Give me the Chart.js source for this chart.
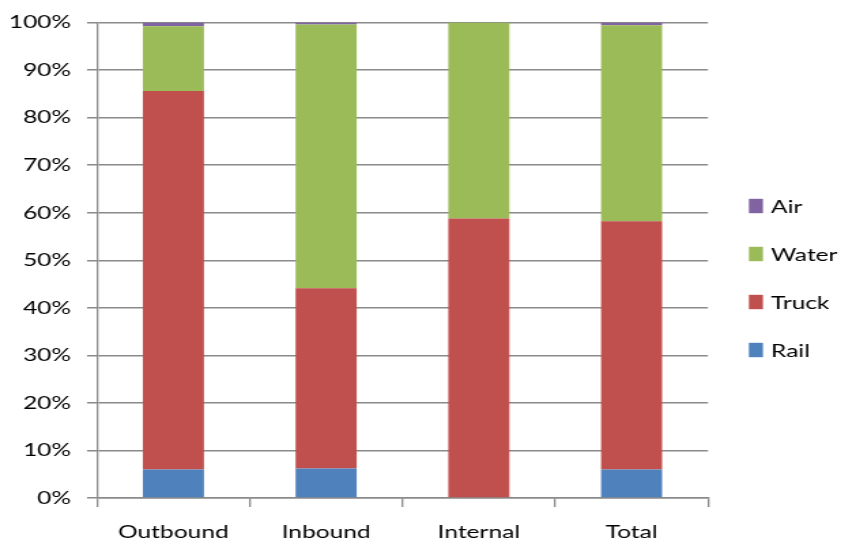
<!DOCTYPE html>
<html>
<head>
<meta charset="utf-8">
<script src="https://cdn.jsdelivr.net/npm/chart.js@4/dist/chart.umd.min.js"></script>
<style>
  html, body { margin: 0; padding: 0; background: #fff; overflow: hidden; }
</style>
</head>
<body>
<!-- drawn on a narrower canvas and widened to the page width -->
<canvas id="chart" width="629" height="546" style="display:block;width:856px;height:546px"></canvas>
<script>
// Modal share of freight (percent of each flow)
const categories = ['Outbound', 'Inbound', 'Internal', 'Total'];
const rail  = [6.0, 6.2, 0.0, 6.0];
const truck = [79.6, 37.9, 58.8, 52.2];
const water = [13.6, 55.5, 41.2, 41.2];
const air   = [0.8, 0.4, 0.0, 0.6];
const yTicks = [0, 10, 20, 30, 40, 50, 60, 70, 80, 90, 100];

const FONT = 'Lato, "Open Sans", sans-serif';
const FONT_SIZE = 18;
const AXIS_GREY = '#8a8a8a';

// Legend listed top-down from the last series, like the stack order
const sideLegend = {
  id: 'sideLegend',
  afterDraw(chart) {
    const ctx = chart.ctx;
    const sets = chart.data.datasets.slice().reverse();
    const centerY = 278, rowGap = 48;
    ctx.save();
    ctx.font = FONT_SIZE + 'px ' + FONT;
    ctx.textBaseline = 'middle';
    ctx.textAlign = 'left';
    sets.forEach((ds, i) => {
      const y = centerY + (i - (sets.length - 1) / 2) * rowGap;
      ctx.fillStyle = ds.backgroundColor;
      ctx.fillRect(550.3, y - 7.2, 10.3, 14.4);
      ctx.fillStyle = '#000';
      ctx.fillText(ds.label, 566.5, y + 1);
    });
    ctx.restore();
  }
};

new Chart(document.getElementById('chart'), {
  type: 'bar',
  data: {
    labels: categories,
    datasets: [
      { label: 'Rail',  data: rail,  backgroundColor: '#4F81BD' },
      { label: 'Truck', data: truck, backgroundColor: '#C0504D' },
      { label: 'Water', data: water, backgroundColor: '#9BBB59' },
      { label: 'Air',   data: air,   backgroundColor: '#8064A2' }
    ]
  },
  options: {
    responsive: false,
    devicePixelRatio: 1,
    animation: false,
    layout: { padding: { top: 20, right: 108.8, bottom: 0, left: 0 } },
    datasets: { bar: { barPercentage: 0.4, categoryPercentage: 1.0, borderWidth: 0 } },
    plugins: { legend: { display: false }, tooltip: { enabled: false } },
    scales: {
      x: {
        stacked: true,
        offset: true,
        grid: { display: true, drawOnChartArea: false, drawTicks: true, tickLength: 9, color: AXIS_GREY, lineWidth: 1.3, offset: true },
        border: { display: true, color: AXIS_GREY, width: 1.5 },
        ticks: { color: '#000', font: { family: FONT, size: FONT_SIZE }, padding: 14, maxRotation: 0 },
        afterFit(scale) { scale.height = 48; }
      },
      y: {
        stacked: true,
        min: 0,
        max: 100,
        afterBuildTicks(scale) { scale.ticks = yTicks.map(v => ({ value: v })); },
        grid: { color: AXIS_GREY, lineWidth: 1.5, drawTicks: true, tickLength: 7.4 },
        border: { display: true, color: AXIS_GREY, width: 1.3 },
        ticks: {
          color: '#000',
          font: { family: FONT, size: FONT_SIZE },
          padding: 11.7,
          callback: v => v + '%'
        },
        afterFit(scale) { scale.width = 71.3; }
      }
    }
  },
  plugins: [sideLegend]
});
</script>
</body>
</html>
